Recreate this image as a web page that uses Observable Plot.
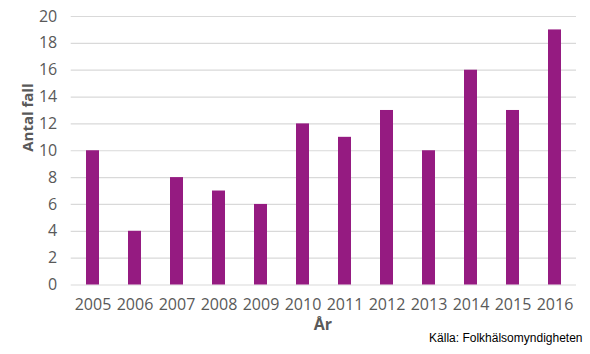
<!DOCTYPE html>
<html><head><meta charset="utf-8">
<script src="https://cdn.jsdelivr.net/npm/d3@7"></script>
<script src="https://cdn.jsdelivr.net/npm/@observablehq/plot@0.6"></script>
<style>body{margin:0;background:#fff;} svg{display:block;}</style>
</head><body><div id="chart"></div>
<script>
const years = ["2005","2006","2007","2008","2009","2010","2011","2012","2013","2014","2015","2016"];
const cases = [10,4,8,7,6,12,11,13,10,16,13,19];
const yTicks = [0,2,4,6,8,10,12,14,16,18,20];
const yLabel = "Antal fall";
const xLabel = "År";
const source = "Källa: Folkhälsomyndigheten";

const data = years.map((y,i)=>({year:y, value:cases[i]}));
const font = "'Open Sans', sans-serif";
const chart = Plot.plot({
  width: 590, height: 354,
  marginTop: 16, marginBottom: 69.5, marginLeft: 70.7, marginRight: 14,
  style: {fontFamily: font, fontSize: "16px", color: "#595959", background: "#fff"},
  x: {domain: years, paddingInner: 0.69, paddingOuter: 0.345, label: null},
  y: {domain: [0,20], label: null},
  marks: [
    Plot.ruleY(yTicks, {stroke: "#d9d9d9", strokeWidth: 1.2}),
    Plot.barY(data, {x: "year", y: "value", fill: "#951B81"}),
    Plot.axisX({tickSize: 0, tickPadding: 14, fontSize: 16, fill: "#595959", style: {letterSpacing: "-0.6px"}}),
    Plot.axisY({ticks: yTicks, tickSize: 0, tickPadding: 14, fontSize: 16, fill: "#595959", style: {letterSpacing: "-0.6px"}}),
    Plot.text([yLabel], {text: d=>d, frameAnchor: "left", dx: -43, dy: 1, rotate: -90, fontWeight: "bold", fontSize: 15, fill: "#595959"}),
    Plot.text([xLabel], {text: d=>d, frameAnchor: "bottom", dy: 45, dx: -1, fontWeight: "bold", fontSize: 16, fill: "#595959"}),
    Plot.text([source], {text: d=>d, frameAnchor: "bottom-right", textAnchor: "end", dx: 6, dy: 57, fontSize: 12, fontFamily: "'Liberation Sans', Arial, sans-serif", fill: "#000", letterSpacing: "-0.3px"})
  ]
});
document.getElementById("chart").append(chart);
</script>
</body></html>
